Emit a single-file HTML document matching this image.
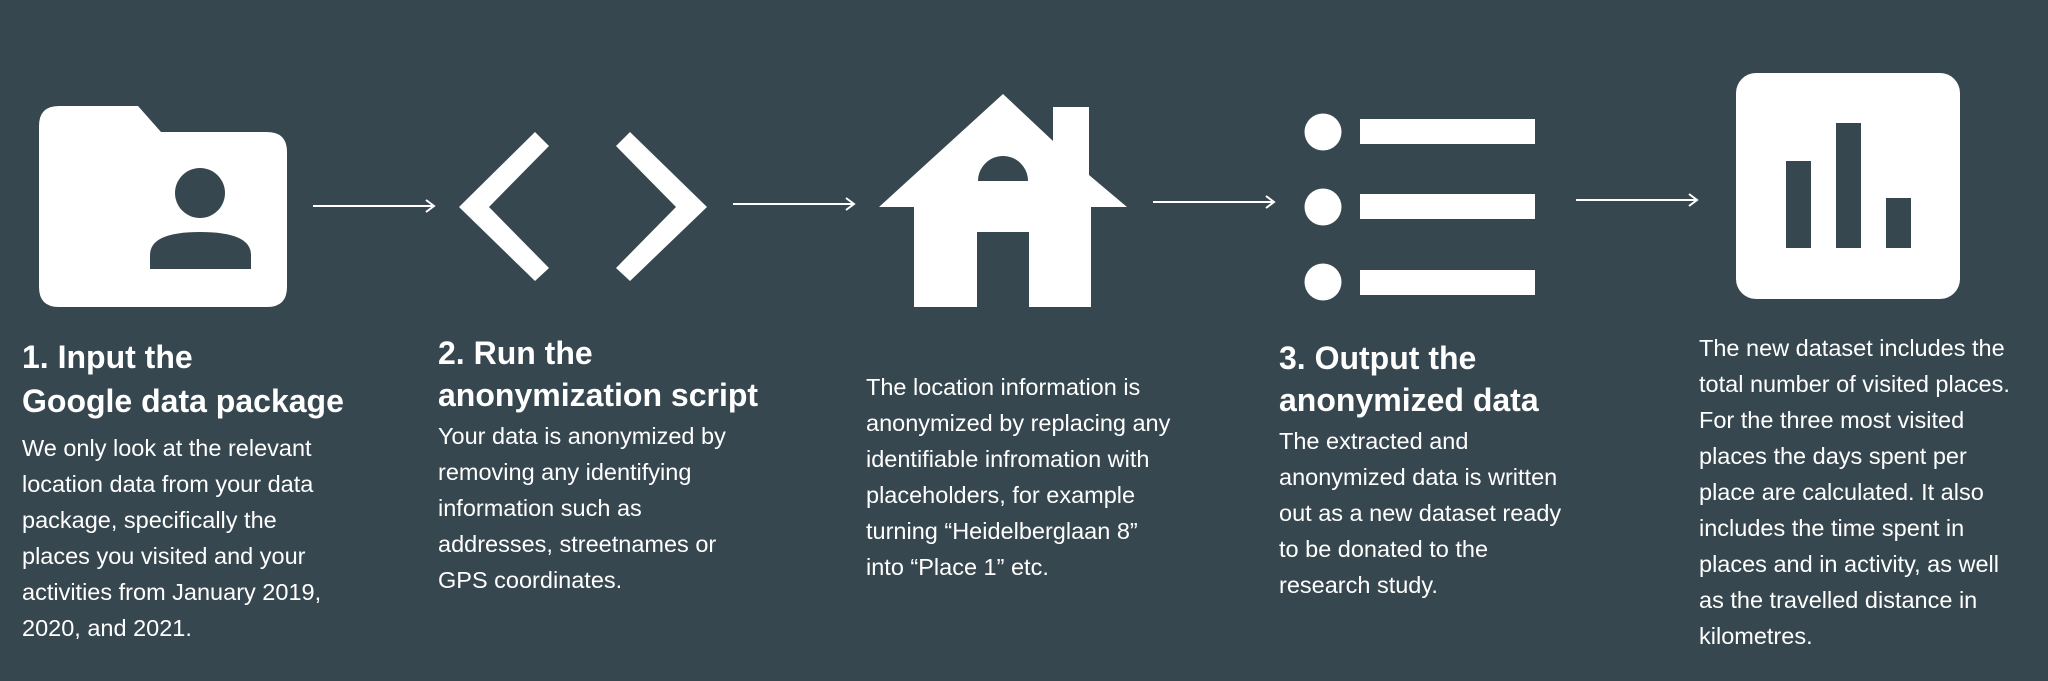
<!DOCTYPE html>
<html><head><meta charset="utf-8"><style>
html,body{margin:0;padding:0;}
body{width:2048px;height:681px;background:#37474f;position:relative;overflow:hidden;font-family:"Liberation Sans",sans-serif;color:#fff;}
.h{position:absolute;font-weight:bold;font-size:32px;line-height:40px;white-space:nowrap;}
.t{position:absolute;font-size:23.5px;line-height:36px;white-space:nowrap;}
svg{position:absolute;left:0;top:0;}
</style></head><body>
<svg width="2048" height="681" viewBox="0 0 2048 681">
<g fill="#fff">
<path d="M39 126 Q39 106 59 106 L138 106 L161 132 L267 132 Q287 132 287 152 L287 287 Q287 307 267 307 L59 307 Q39 307 39 287 Z"/>
<polygon points="535,132 549,146 489,207 549,268 535,281 459,207"/>
<polygon points="630,132 616,146 676,207 616,268 630,281 707,207"/>
<polygon points="1003,94 1053,141 1053,107 1089,107 1089,175 1127,207 1091,207 1091,307 1029,307 1029,232 977,232 977,307 914,307 914,207 879,207"/>
<circle cx="1323" cy="132" r="18.5"/><circle cx="1323" cy="207" r="18.5"/><circle cx="1323" cy="282" r="18.5"/>
<rect x="1360" y="119" width="175" height="25"/><rect x="1360" y="194" width="175" height="25"/><rect x="1360" y="270" width="175" height="25"/>
<rect x="1736" y="73" width="224" height="226" rx="20"/>
</g>
<g fill="#37474f">
<circle cx="200" cy="193" r="25"/>
<path d="M150 269 L150 255 Q150 232 200 232 Q251 232 251 255 L251 269 Z"/>
<path d="M978 181 A25 25 0 0 1 1028 181 Z"/>
<rect x="1786" y="161" width="25" height="87"/><rect x="1836" y="123" width="25" height="125"/><rect x="1886" y="198" width="25" height="50"/>
</g>
<g stroke="#fff" stroke-width="2" fill="none">
<line x1="313" y1="206" x2="434" y2="206"/><polyline points="426,200 434,206 426,212"/>
<line x1="733" y1="204" x2="854" y2="204"/><polyline points="846,198 854,204 846,210"/>
<line x1="1153" y1="202" x2="1274" y2="202"/><polyline points="1266,196 1274,202 1266,208"/>
<line x1="1576" y1="200" x2="1697" y2="200"/><polyline points="1689,194 1697,200 1689,206"/>
</g>
</svg>

<div class="h" style="left:22px;top:337px">1. Input the</div>
<div class="h" style="left:22px;top:381px">Google data package</div>
<div class="t" style="left:22px;top:430px">We only look at the relevant</div>
<div class="t" style="left:22px;top:466px">location data from your data</div>
<div class="t" style="left:22px;top:502px">package, specifically the</div>
<div class="t" style="left:22px;top:538px">places you visited and your</div>
<div class="t" style="left:22px;top:574px">activities from January 2019,</div>
<div class="t" style="left:22px;top:610px">2020, and 2021.</div>

<div class="h" style="left:438px;top:333px">2. Run the</div>
<div class="h" style="left:438px;top:375px">anonymization script</div>
<div class="t" style="left:438px;top:418px">Your data is anonymized by</div>
<div class="t" style="left:438px;top:454px">removing any identifying</div>
<div class="t" style="left:438px;top:490px">information such as</div>
<div class="t" style="left:438px;top:526px">addresses, streetnames or</div>
<div class="t" style="left:438px;top:562px">GPS coordinates.</div>

<div class="t" style="left:866px;top:369px">The location information is</div>
<div class="t" style="left:866px;top:405px">anonymized by replacing any</div>
<div class="t" style="left:866px;top:441px">identifiable infromation with</div>
<div class="t" style="left:866px;top:477px">placeholders, for example</div>
<div class="t" style="left:866px;top:513px">turning “Heidelberglaan 8”</div>
<div class="t" style="left:866px;top:549px">into “Place 1” etc.</div>

<div class="h" style="left:1279px;top:338px">3. Output the</div>
<div class="h" style="left:1279px;top:380px">anonymized data</div>
<div class="t" style="left:1279px;top:423px">The extracted and</div>
<div class="t" style="left:1279px;top:459px">anonymized data is written</div>
<div class="t" style="left:1279px;top:495px">out as a new dataset ready</div>
<div class="t" style="left:1279px;top:531px">to be donated to the</div>
<div class="t" style="left:1279px;top:567px">research study.</div>

<div class="t" style="left:1699px;top:330px">The new dataset includes the</div>
<div class="t" style="left:1699px;top:366px">total number of visited places.</div>
<div class="t" style="left:1699px;top:402px">For the three most visited</div>
<div class="t" style="left:1699px;top:438px">places the days spent per</div>
<div class="t" style="left:1699px;top:474px">place are calculated. It also</div>
<div class="t" style="left:1699px;top:510px">includes the time spent in</div>
<div class="t" style="left:1699px;top:546px">places and in activity, as well</div>
<div class="t" style="left:1699px;top:582px">as the travelled distance in</div>
<div class="t" style="left:1699px;top:618px">kilometres.</div>
</body></html>
